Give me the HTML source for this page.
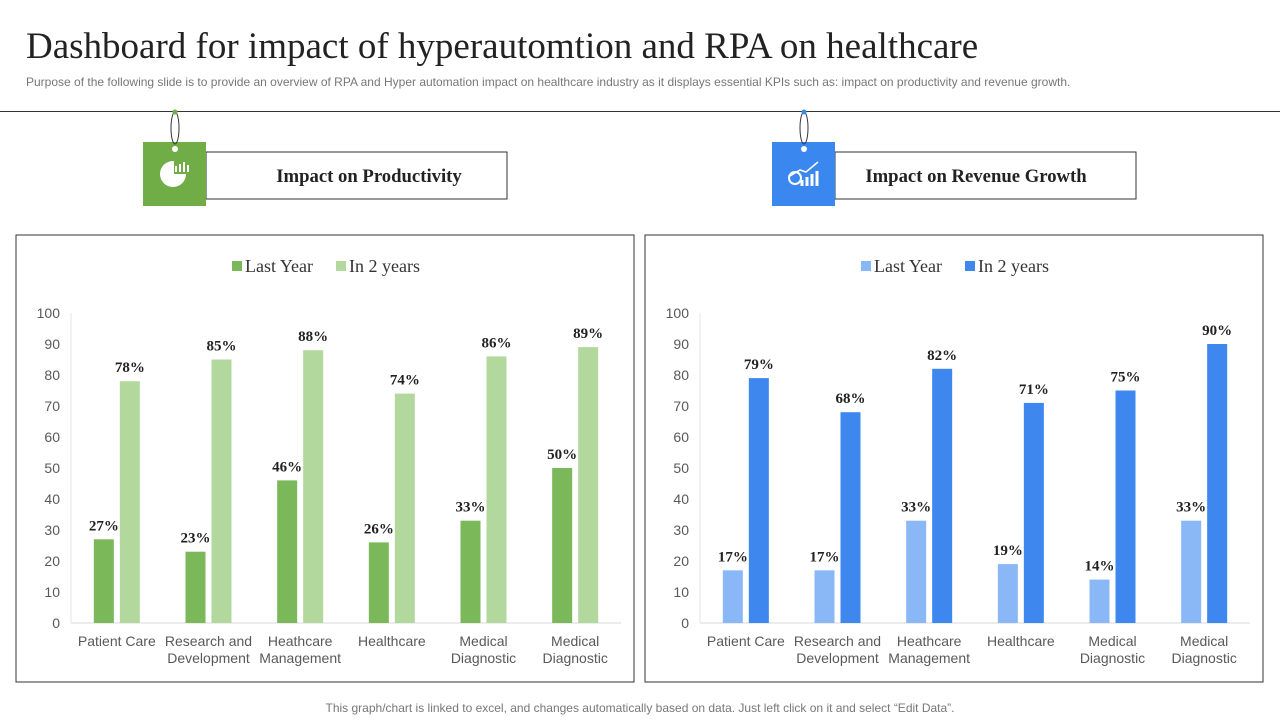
<!DOCTYPE html>
<html><head><meta charset="utf-8"><style>
body{margin:0;width:1280px;height:720px;background:#fff;position:relative;overflow:hidden;font-family:"Liberation Sans",sans-serif}
.abs{position:absolute}
</style></head><body>
<div class="abs" style="left:26px;top:25px;font-family:'Liberation Serif',serif;font-size:37px;color:#222;white-space:nowrap">Dashboard for impact of hyperautomtion and RPA on healthcare</div>
<div class="abs" style="left:26px;top:75px;font-size:12px;color:#777;white-space:nowrap">Purpose of the following slide is to provide an overview of RPA and Hyper automation impact on healthcare industry as it displays essential KPIs such as: impact on productivity and revenue growth.</div>
<div class="abs" style="left:0;top:111px;width:1280px;height:1px;background:#333"></div>
<div class="abs" style="left:0;top:701px;width:1280px;text-align:center;font-size:12px;color:#777">This graph/chart is linked to excel, and changes automatically based on data. Just left click on it and select “Edit Data”.</div>
<svg class="abs" style="left:0;top:0" width="1280" height="720" id="svg">
<g>
<rect x="206" y="152" width="301" height="47" fill="#fff" stroke="#333"/>
<text x="369" y="182" text-anchor="middle" font-family="Liberation Serif,serif" font-weight="bold" font-size="18.7" fill="#222">Impact on Productivity</text>
<rect x="143" y="142" width="63" height="64" fill="#70ad47"/>
<ellipse cx="175" cy="128" rx="4" ry="16" fill="none" stroke="#333"/>
<circle cx="175" cy="112" r="2.5" fill="#70ad47"/><circle cx="175" cy="149" r="3" fill="#fff"/>
<circle cx="173" cy="174" r="13" fill="#fff"/><rect x="174" y="160" width="16" height="14" fill="#70ad47"/>
<path d="M176 172v-6M180 172v-8M184 172v-10M188 172v-7" stroke="#fff" stroke-width="2"/>
</g>
<g>
<rect x="835" y="152" width="301" height="47" fill="#fff" stroke="#333"/>
<text x="976" y="182" text-anchor="middle" font-family="Liberation Serif,serif" font-weight="bold" font-size="18.7" fill="#222">Impact on Revenue Growth</text>
<rect x="772" y="142" width="63" height="64" fill="#3b87f0"/>
<ellipse cx="804" cy="128" rx="4" ry="16" fill="none" stroke="#333"/>
<circle cx="804" cy="112" r="2.5" fill="#3b87f0"/><circle cx="804" cy="149" r="3" fill="#fff"/>
<circle cx="795" cy="178" r="6" fill="none" stroke="#fff" stroke-width="2"/>
<path d="M802 186v-6M807 186v-9M812 186v-12M817 186v-15" stroke="#fff" stroke-width="3"/>
<path d="M790 176l10-6 6 2 12-10" stroke="#fff" stroke-width="1.5" fill="none"/>
</g>
<rect x="16" y="235" width="618" height="447" fill="none" stroke="#333"/>
<rect x="645" y="235" width="618" height="447" fill="none" stroke="#333"/>
</svg>
<script>
const categories=[["Patient Care"],["Research and","Development"],["Heathcare","Management"],["Healthcare"],["Medical","Diagnostic"],["Medical","Diagnostic"]];
const prodLast=[27,23,46,26,33,50];
const prodIn2=[78,85,88,74,86,89];
const revLast=[17,17,33,19,14,33];
const revIn2=[79,68,82,71,75,90];
const yTicks=[0,10,20,30,40,50,60,70,80,90,100];
const legendLabels=["Last Year","In 2 years"];
const NS="http://www.w3.org/2000/svg";
const svg=document.getElementById('svg');
function mk(t,a,txt){const e=document.createElementNS(NS,t);for(const k in a)e.setAttribute(k,a[k]);if(txt!=null)e.textContent=txt;svg.appendChild(e);return e;}
function chart(x0,s1,s2,c1,c2,prefix){
  const x1=x0+550,yb=623,yt=313;
  const y=v=>yb-(v/100)*(yb-yt);
  const bw=(x1-x0)/categories.length;
  yTicks.forEach(t=>{const e=mk('text',{x:x0-11,y:y(t)+5,'text-anchor':'end','font-size':14,fill:'#595959'},t);
  
  });
  const ax=mk('line',{x1:x0,x2:x1,y1:yb,y2:yb,stroke:'#d9d9d9'});
  
  
  const ay=mk('line',{x1:x0,x2:x0,y1:yt,y2:yb,stroke:'#e5e5e5'});
  
  
  categories.forEach((c,i)=>{
    const cx=x0+bw*(i+0.5);
    [[s1,c1,cx-23],[s2,c2,cx+3]].forEach(([s,col,bx],j)=>{
      const v=s[i];
      const r=mk('rect',{x:bx,y:y(v),width:20,height:yb-y(v),fill:col});
      
      
      const l=mk('text',{x:bx+10,y:y(v)-9,'text-anchor':'middle','font-family':'Liberation Serif,serif','font-weight':'bold','font-size':15,fill:'#222'},v+'%');
      
      
    });
    c.forEach((ln,k)=>{const t=mk('text',{x:cx,y:646+k*17,'text-anchor':'middle','font-size':14,fill:'#595959'},ln);
    
    });
  });
  const lx=x0+161;
  [[c1,legendLabels[0],lx],[c2,legendLabels[1],lx+104]].forEach(([col,lab,px])=>{
    const r=mk('rect',{x:px,y:261,width:10,height:10,fill:col});
    
    
    const t=mk('text',{x:px+13,y:272,'font-family':'Liberation Serif,serif','font-size':18,fill:'#333'},lab);
    
    
  });
}
chart(71,prodLast,prodIn2,'#7ab85a','#b3d89d','productivity');
chart(700,revLast,revIn2,'#8ab8f7','#3d87ee','revenue');
</script>
</body></html>
